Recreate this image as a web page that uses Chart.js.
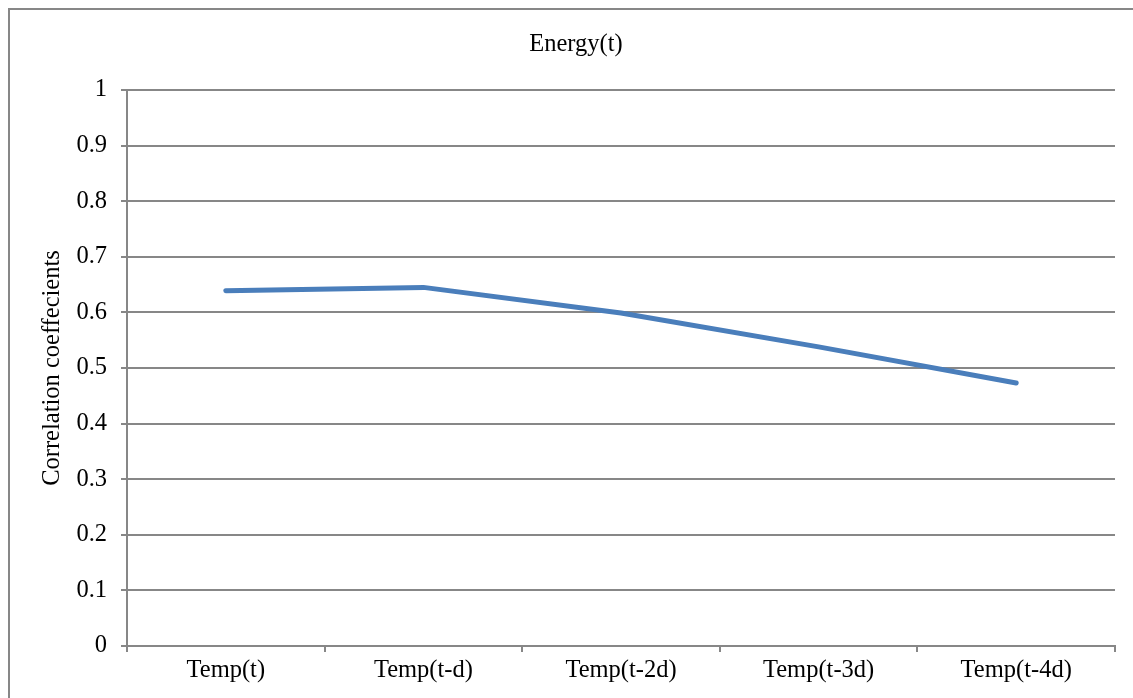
<!DOCTYPE html>
<html>
<head>
<meta charset="utf-8">
<script src="https://cdn.jsdelivr.net/npm/chart.js@4.4.0/dist/chart.umd.min.js"></script>
<style>
    html, body { margin: 0; padding: 0; background: #fff; overflow: hidden; }
    #wrap { position: relative; width: 1133px; height: 698px; overflow: hidden; }
    #frame {
        position: absolute; left: 8px; top: 8px; width: 1200px; height: 800px;
        border: 2px solid #878787; pointer-events: none;
    }
</style>
</head>
<body>
<div id="wrap">
    <canvas id="myChart"></canvas>
    <div id="frame"></div>
</div>
<script>
var categories = ['Temp(t)', 'Temp(t-d)', 'Temp(t-2d)', 'Temp(t-3d)', 'Temp(t-4d)'];
var energyValues = [0.639, 0.645, 0.599, 0.538, 0.473];
var chartTitle = 'Energy(t)';
var yAxisTitle = 'Correlation coeffecients';

var fontFamily = "'Liberation Serif', 'Times New Roman', serif";
var fontSize = 24.5;
var gridColor = '#878787';

// title centred on the outer frame, not on the plot area
var titlePlugin = {
    id: 'frameTitle',
    afterDraw: function (chart) {
        var ctx = chart.ctx;
        ctx.save();
        ctx.font = fontSize + 'px ' + fontFamily;
        ctx.fillStyle = '#000';
        ctx.textAlign = 'center';
        ctx.textBaseline = 'middle';
        ctx.fillText(chartTitle, 576, 45);
        ctx.restore();
    }
};

var canvas = document.getElementById('myChart');
canvas.width = 1133;
canvas.height = 698;

var ctx1 = canvas.getContext('2d');
var myChart1 = new Chart(ctx1, {
    type: 'line',
    data: {
        labels: categories,
        datasets: [{
            label: chartTitle,
            data: energyValues,
            borderColor: '#4A7EBB',
            backgroundColor: '#4A7EBB',
            borderWidth: 5,
            borderCapStyle: 'round',
            borderJoinStyle: 'round',
            pointRadius: 0,
            tension: 0
        }]
    },
    plugins: [titlePlugin],
    options: {
        responsive: false,
        animation: false,
        layout: {
            padding: { top: 90, left: 0, right: 18, bottom: 0 }
        },
        scales: {
            x: {
                offset: true,
                grid: {
                    offset: true,
                    drawOnChartArea: false,
                    drawTicks: true,
                    tickLength: 6,
                    color: gridColor,
                    lineWidth: 2
                },
                border: { color: gridColor, width: 2 },
                ticks: {
                    color: '#000',
                    padding: 4,
                    maxRotation: 0,
                    font: { family: fontFamily, size: fontSize }
                },
                afterFit: function (scale) { scale.height = 52; }
            },
            y: {
                min: 0,
                max: 1,
                grid: {
                    color: gridColor,
                    lineWidth: 2,
                    drawTicks: true,
                    tickLength: 6
                },
                border: { color: gridColor, width: 2 },
                ticks: {
                    stepSize: 0.1,
                    color: '#000',
                    padding: 14,
                    font: { family: fontFamily, size: fontSize },
                    callback: function (v) { return String(Math.round(v * 10) / 10); }
                },
                title: {
                    display: true,
                    text: yAxisTitle,
                    color: '#000',
                    padding: { top: 38, bottom: 0 },
                    font: { family: fontFamily, size: fontSize }
                },
                afterFit: function (scale) { scale.width = 127; }
            }
        },
        plugins: {
            legend: { display: false },
            tooltip: { enabled: false },
            title: { display: false }
        }
    }
});
</script>
</body>
</html>
